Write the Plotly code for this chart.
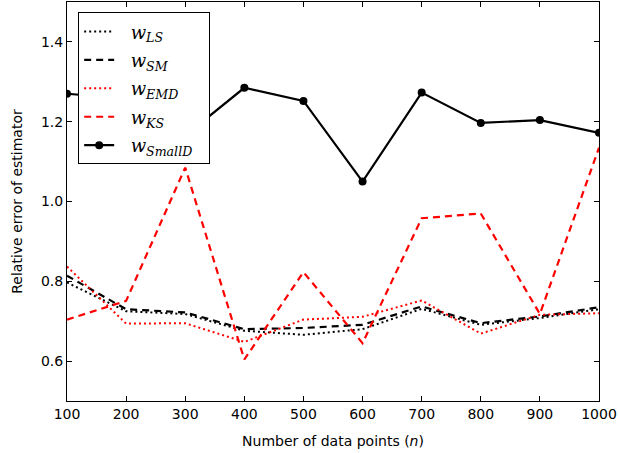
import plotly.graph_objects as go

n_points = [100, 200, 300, 400, 500, 600, 700, 800, 900, 1000]
w_ls = [0.797, 0.725, 0.718, 0.676, 0.666, 0.680, 0.731, 0.691, 0.708, 0.730]
w_sm = [0.814, 0.730, 0.722, 0.680, 0.683, 0.691, 0.737, 0.695, 0.712, 0.735]
w_emd = [0.837, 0.694, 0.695, 0.648, 0.704, 0.711, 0.752, 0.669, 0.716, 0.720]
w_ks = [0.704, 0.751, 1.085, 0.604, 0.823, 0.645, 0.958, 0.970, 0.718, 1.135]
w_smalld = [1.270, 1.258, 1.165, 1.285, 1.252, 1.050, 1.273, 1.197, 1.204, 1.172]

x_ticks = [100, 200, 300, 400, 500, 600, 700, 800, 900, 1000]
y_ticks = [0.6, 0.8, 1.0, 1.2, 1.4]
y_tick_labels = ["0.6", "0.8", "1.0", "1.2", "1.4"]

def lbl(sub):
    return "&nbsp;&nbsp;<i>w</i><sub><i>%s</i></sub>&nbsp;&nbsp;" % sub

fig = go.Figure()
fig.add_trace(go.Scatter(x=n_points, y=w_ls, mode="lines", name=lbl("LS"), legendgroup="a",
                         line=dict(color="black", width=2, dash="2px,3px")))
fig.add_trace(go.Scatter(x=n_points, y=w_sm, mode="lines", name=lbl("SM"), legendgroup="b",
                         line=dict(color="black", width=2.2, dash="7px,5px")))
fig.add_trace(go.Scatter(x=n_points, y=w_emd, mode="lines", name=lbl("EMD"), legendgroup="c",
                         line=dict(color="#ff0000", width=2, dash="2px,3px")))
fig.add_trace(go.Scatter(x=n_points, y=w_ks, mode="lines", name=lbl("KS"), legendgroup="d",
                         line=dict(color="#ff0000", width=2.2, dash="7px,5px")))
fig.add_trace(go.Scatter(x=n_points, y=w_smalld, mode="lines+markers", name=lbl("SmallD"),
                         legendgroup="e",
                         line=dict(color="black", width=2.2),
                         marker=dict(color="black", size=8)))

axis_common = dict(showgrid=False, zeroline=False, showline=True, linecolor="black",
                   linewidth=1, mirror="ticks", ticks="inside", ticklen=5,
                   tickcolor="black", tickfont=dict(family="DejaVu Sans", size=14, color="black"))

fig.update_layout(
    width=618, height=453,
    margin=dict(l=67, r=19, t=2, b=52),
    paper_bgcolor="white", plot_bgcolor="white",
    showlegend=True,
    legend=dict(x=0.021, y=0.974, xanchor="left", yanchor="top",
                bgcolor="white", bordercolor="black", borderwidth=1,
                font=dict(family="DejaVu Serif", size=18, color="black"),
                itemwidth=30, tracegroupgap=2),
    xaxis=dict(range=[100, 1000], tickvals=x_ticks,
               title=dict(text="Number of data points (<i>n</i>)",
                          font=dict(family="DejaVu Sans", size=14, color="black"), standoff=15),
               **axis_common),
    yaxis=dict(range=[0.5, 1.5], tickvals=y_ticks, ticktext=y_tick_labels,
               title=dict(text="Relative error of estimator",
                          font=dict(family="DejaVu Sans", size=14, color="black"), standoff=15),
               **axis_common),
)

fig.write_html("out.html", config={"displayModeBar": False},
               post_script="document.body.style.margin='0';document.body.style.padding='0';")
